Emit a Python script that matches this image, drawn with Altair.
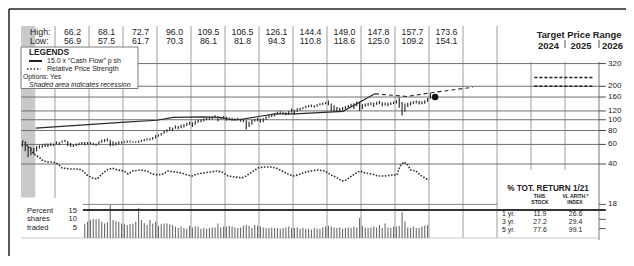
import math
import altair as alt
import pandas as pd

# ---------------- data ----------------
hl_years = list(range(2010, 2022))
hl_high = [66.2, 68.1, 72.7, 96.0, 109.5, 106.5, 126.1, 144.4, 149.0, 147.8, 157.7, 173.6]
hl_low = [56.9, 57.5, 61.7, 70.3, 86.1, 81.8, 94.3, 110.8, 118.6, 125.0, 109.2, 154.1]

# monthly price range, Jan 2009 .. Jan 2021
month_high = [
    63, 62, 58, 57, 56, 58, 59, 60, 61, 61, 62, 61,            # 2009
    64, 63, 65, 66.2, 64, 62, 60, 61, 62, 63, 63, 63,          # 2010
    63, 62, 61, 64, 66, 67, 68.1, 66, 64, 63, 64, 64,          # 2011
    64, 65, 65, 64, 64, 65, 66, 67, 68, 68, 70, 72.7,          # 2012
    74, 76, 80, 82, 86, 85, 89, 88, 90, 91, 94, 96.0,          # 2013
    95, 98, 100, 101, 103, 104, 106, 107, 109.5, 107, 106, 108,  # 2014
    106.5, 105, 104, 103, 104, 102, 101, 99, 96, 100, 102, 104,  # 2015
    102, 103, 107, 110, 112, 114, 118, 119, 118, 117, 120, 126.1,  # 2016
    123, 127, 128, 130, 134, 136, 137, 135, 138, 141, 143, 144.4,  # 2017
    149.0, 140, 135, 130, 128, 130, 133, 136, 139, 141, 146, 145,  # 2018
    138, 140, 142, 144, 143, 145, 147.8, 144, 143, 142, 144, 146,  # 2019
    150, 157.7, 145, 140, 142, 145, 147, 149, 148, 147, 150, 157,  # 2020
    173.6,                                                       # 2021
]
month_low = [
    57, 52, 46, 48, 49, 52, 55, 56, 57, 57, 58, 58,
    60, 59, 62, 63, 58, 57, 56.9, 58, 59, 60, 59, 60,
    60, 59, 58, 60, 62, 63, 64, 57.5, 58, 59, 60, 61,
    61.7, 62, 62.5, 62, 62, 62, 63, 64, 65, 65, 66, 68,
    70.3, 72, 75, 77, 80, 79, 83, 82, 84, 85, 88, 90,
    86.1, 90, 94, 95, 97, 99, 100, 101, 103, 97, 101, 102,
    98, 99, 98, 98, 99, 96, 95, 81.8, 86, 90, 96, 97,
    94.3, 95, 100, 104, 106, 107, 111, 113, 112, 110, 111, 116,
    110.8, 118, 121, 124, 127, 129, 130, 128, 131, 134, 136, 138,
    135, 120, 118.6, 119, 120, 122, 125, 128, 131, 125, 132, 120,
    125.0, 131, 133, 135, 130, 136, 138, 132, 134, 132, 136, 138,
    140, 128, 109.2, 118, 130, 134, 138, 140, 137, 138, 139, 145,
    154.1,
]
price_first_year = 2009

# relative price strength (index)
rps_time = [2009.03, 2009.12, 2009.21, 2009.29, 2009.38, 2009.47, 2009.56, 2009.65, 2009.79, 2009.94,
            2010.09, 2010.21, 2010.44, 2010.68, 2010.79, 2010.94, 2011.09, 2011.24, 2011.38, 2011.53,
            2011.68, 2011.85, 2012.03, 2012.15, 2012.29, 2012.5, 2012.71, 2012.85, 2013.03, 2013.18,
            2013.32, 2013.53, 2013.74, 2013.88, 2014.03, 2014.18, 2014.35, 2014.56, 2014.76, 2014.91,
            2015.09, 2015.29, 2015.5, 2015.62, 2015.79, 2015.97, 2016.12, 2016.32, 2016.5, 2016.68,
            2016.85, 2017.0, 2017.15, 2017.29, 2017.5, 2017.74, 2017.94, 2018.12, 2018.26, 2018.44,
            2018.56, 2018.68, 2018.82, 2018.97, 2019.12, 2019.32, 2019.5, 2019.71, 2019.91, 2020.06,
            2020.15, 2020.26, 2020.35, 2020.47, 2020.62, 2020.74, 2020.88, 2021.0]
rps_value = [1.46, 1.44, 1.34, 1.28, 1.20, 1.16, 1.12, 1.06, 1.04, 1.04,
             1.00, 0.92, 0.90, 0.90, 0.88, 0.78, 0.72, 0.70, 0.80, 0.88,
             0.92, 0.88, 0.86, 0.80, 0.86, 0.88, 0.86, 0.80, 0.78, 0.80,
             0.86, 0.84, 0.82, 0.78, 0.76, 0.80, 0.82, 0.84, 0.86, 0.84,
             0.76, 0.74, 0.72, 0.76, 0.84, 0.92, 0.94, 0.94, 0.92, 0.86,
             0.80, 0.76, 0.78, 0.82, 0.86, 0.88, 0.86, 0.78, 0.74, 0.66,
             0.68, 0.74, 0.80, 0.86, 0.82, 0.80, 0.76, 0.76, 0.78, 0.78,
             0.96, 1.04, 1.00, 0.88, 0.86, 0.78, 0.72, 0.68]

# 15.0 x "Cash Flow" per share
cf_time = [2009.43, 2012.06, 2013.0, 2013.47, 2014.35, 2014.85, 2015.2, 2015.4,
           2016.47, 2017.06, 2018.47, 2019.41]
cf_value = [84, 95, 99, 105, 106, 105, 100, 100, 113, 113, 119, 171]
proj_time = [2019.41, 2020.35, 2021.12, 2022.29]
proj_value = [171, 162, 176, 196]

# percent shares traded, monthly from Nov 2010
vol_first = 2010 + 10 / 12
vol = [7.3, 8.7,
       9.6, 10.2, 10.0, 10.2, 8.7, 7.7, 8.5, 17.7, 9.6, 9.0, 8.7, 7.7,   # 2011
       7.3, 7.0, 7.3, 7.7, 8.7, 16.2, 9.6, 8.0, 7.0, 9.6, 7.7, 8.7,      # 2012
       6.6, 7.3, 7.7, 7.7, 7.3, 7.0, 6.2, 5.3, 6.2, 5.3, 4.9, 6.6,       # 2013
       5.6, 6.2, 6.2, 4.9, 5.3, 4.9, 5.3, 5.6, 5.6, 7.7, 5.6, 6.2,       # 2014
       6.2, 6.6, 6.2, 5.6, 5.3, 5.6, 6.6, 7.0, 6.6, 5.3, 7.0, 6.6,       # 2015
       6.2, 5.6, 5.3, 5.3, 5.6, 5.3, 5.3, 5.0, 5.3, 5.6, 6.2, 5.3,       # 2016
       5.3, 5.6, 4.9, 5.3, 4.9, 5.0, 4.5, 5.3, 4.9, 5.0, 5.6, 6.2,       # 2017
       6.6, 6.2, 5.6, 5.3, 5.6, 5.0, 5.3, 5.6, 5.3, 6.2, 5.6, 10.7,      # 2018
       6.6, 5.6, 5.3, 5.6, 6.2, 5.6, 7.0, 5.3, 7.7, 5.6, 5.3, 6.2,       # 2019
       6.2, 6.6, 13.8, 8.9, 5.6, 5.3, 6.2, 5.3, 5.3, 6.2, 6.6, 7.0]      # 2020

rec_start = [2009.0]
rec_end = [2009.42]

last_time = [2021.18]
last_price = [160]

target_high = 240
target_low = 200
target_from, target_to = 2024.1, 2025.85

price_ticks = [320, 200, 160, 120, 100, 80, 60, 40]
vol_grid = [18, 15]
vol_ticks = [18, 10, 5]

periods = ["1 yr.", "3 yr.", "5 yr."]
this_stock = [11.9, 27.2, 77.6]
vl_index = [26.6, 29.4, 99.1]

# ---------------- layout ----------------
W, H = 618, 248
X0, PPY = 47.0, 34.0                 # plot x of 2010.0, px per year
XDOM = [2010 - X0 / PPY, 2010 + (W - X0) / PPY]
PA, PK = 156.0, 48.3                 # y = PA - PK*ln(p/40)
PDOM = [40 * math.exp((PA - H) / PK), 40 * math.exp(PA / PK)]
VA, VK = 230.0, 1.867                # y = VA - VK*v
VDOM = [(VA - H) / VK, VA / VK]
RA, RK = 206.0, 50.0                 # y = RA - RK*r
RDOM = [(RA - H) / RK, RA / RK]

FONT = "Liberation Sans, Arial, Helvetica, sans-serif"
TXT = "#222222"
VGRID = "#9c9c9c"
HGRID = "#707070"

XS = alt.Scale(domain=XDOM, nice=False, zero=False)


def xe(f):
    return alt.X(f, type="quantitative", scale=XS, axis=None)


def pye(f):
    return alt.Y(f, type="quantitative", scale=alt.Scale(type="log", domain=PDOM, nice=False), axis=None)


def vye(f):
    return alt.Y(f, type="quantitative", scale=alt.Scale(domain=VDOM, nice=False, zero=False), axis=None)


def rye(f):
    return alt.Y(f, type="quantitative", scale=alt.Scale(domain=RDOM, nice=False, zero=False), axis=None)


def label(txt, x, y, size=8.0, weight="normal", style="normal", align="left", color=TXT):
    return alt.Chart(pd.DataFrame({"t": [txt]})).mark_text(
        x=x, y=y, align=align, baseline="alphabetic", fontSize=size, fontWeight=weight,
        fontStyle=style, font=FONT, color=color
    ).encode(text="t:N")


one = pd.DataFrame({"k": [0]})
layers = []

# recession shading
rec = pd.DataFrame({"s": rec_start, "e": rec_end})
layers.append(alt.Chart(rec).mark_rect(color="#c9c9c9").encode(
    x=xe("s"), x2=alt.X2("e"), y=alt.value(18), y2=alt.value(189.5)))


# vertical year lines
def vlines(years, y0, y1, color=VGRID, w=1.0):
    d = pd.DataFrame({"yr": years})
    return alt.Chart(d).mark_rule(color=color, strokeWidth=w).encode(
        x=xe("yr"), y=alt.value(y0), y2=alt.value(y1))


layers.append(vlines([2010], 18, 190))
layers.append(vlines(list(range(2011, 2024)), 18, 230))
layers.append(vlines([2024, 2025], 54, 162))
layers.append(vlines([2026], 54, 232, color="#777777"))
layers.append(vlines([2025, 2026], 32, 40, color="#555555"))

# horizontal price grid
pg = pd.DataFrame({"p": price_ticks, "a": 2009.0, "b": 2026.0})
layers.append(alt.Chart(pg).mark_rule(color=HGRID, strokeWidth=1.0).encode(
    x=xe("a"), x2=alt.X2("b"), y=pye("p")))
pt = pd.DataFrame({"p": price_ticks, "a": 2026.0, "b": 2026.2})
layers.append(alt.Chart(pt).mark_rule(color="#444444", strokeWidth=1.0).encode(
    x=xe("a"), x2=alt.X2("b"), y=pye("p")))
layers.append(alt.Chart(pd.DataFrame({"p": price_ticks})).mark_text(
    align="left", baseline="middle", fontSize=8, font=FONT, color=TXT, dx=1).encode(
    x=alt.value(599), y=pye("p"), text=alt.Text("p:Q", format="d")))

# volume panel grid
vb = pd.DataFrame({"v": [0], "a": 2009.0, "b": 2026.0})
layers.append(alt.Chart(vb).mark_rule(color="#bdbdbd", strokeWidth=0.8).encode(
    x=xe("a"), x2=alt.X2("b"), y=vye("v")))
v18 = pd.DataFrame({"v": [vol_grid[0]], "a": 2010.82, "b": 2023.0})
layers.append(alt.Chart(v18).mark_rule(color="#777777", strokeWidth=0.9).encode(
    x=xe("a"), x2=alt.X2("b"), y=vye("v")))
vt = pd.DataFrame({"v": vol_ticks, "a": 2026.0, "b": 2026.2})
layers.append(alt.Chart(vt).mark_rule(color="#555555", strokeWidth=1.0).encode(
    x=xe("a"), x2=alt.X2("b"), y=vye("v")))
layers.append(alt.Chart(pd.DataFrame({"v": [18]})).mark_text(
    align="left", baseline="middle", fontSize=8, font=FONT, color=TXT, dx=1).encode(
    x=alt.value(599), y=vye("v"), text=alt.Text("v:Q", format="d")))

# volume bars
vd = pd.DataFrame({"t": [vol_first + (i + 0.5) / 12 for i in range(len(vol))], "v": vol, "z": 0})
layers.append(alt.Chart(vd).mark_rule(color="#6a6a6a", strokeWidth=1.1).encode(
    x=xe("t"), y=vye("v"), y2=alt.Y2("z")))

v15 = pd.DataFrame({"v": [vol_grid[1]], "a": 2010.82, "b": 2026.2})
layers.append(alt.Chart(v15).mark_rule(color="#333333", strokeWidth=2.2).encode(
    x=xe("a"), x2=alt.X2("b"), y=vye("v")))

# monthly price bars
pdf = pd.DataFrame({"t": [price_first_year + (i + 0.5) / 12 for i in range(len(month_high))],
                    "hi": month_high, "lo": month_low})
layers.append(alt.Chart(pdf).mark_rule(color="#303030", strokeWidth=1.2).encode(
    x=xe("t"), y=pye("hi"), y2=alt.Y2("lo")))

# relative price strength
rdf = pd.DataFrame({"t": rps_time, "r": rps_value})
layers.append(alt.Chart(rdf).mark_line(color="#2a2a2a", strokeWidth=1.6, strokeDash=[1.5, 1.6]).encode(
    x=xe("t"), y=rye("r")))

# cash flow line and projection
cdf = pd.DataFrame({"t": cf_time, "p": cf_value})
layers.append(alt.Chart(cdf).mark_line(color="#2a2a2a", strokeWidth=1.2).encode(x=xe("t"), y=pye("p")))
jdf = pd.DataFrame({"t": proj_time, "p": proj_value})
layers.append(alt.Chart(jdf).mark_line(color="#2a2a2a", strokeWidth=1.1, strokeDash=[4, 3]).encode(
    x=xe("t"), y=pye("p")))

# target price range
tdf = pd.DataFrame({"p": [target_high, target_low], "a": target_from, "b": target_to})
layers.append(alt.Chart(tdf).mark_rule(color="#1a1a1a", strokeWidth=1.6, strokeDash=[3, 2]).encode(
    x=xe("a"), x2=alt.X2("b"), y=pye("p")))

# latest price dot
ldf = pd.DataFrame({"t": last_time, "p": last_price})
layers.append(alt.Chart(ldf).mark_circle(color="#111111", size=42, opacity=1).encode(x=xe("t"), y=pye("p")))

# high / low rows
HL_FS = 8.8
HIGH_Y, LOW_Y = 26.6, 36.4
hdf = pd.DataFrame({"c": [y + 0.5 for y in hl_years], "h": hl_high, "l": hl_low})
layers.append(alt.Chart(hdf).mark_text(align="center", baseline="alphabetic", fontSize=HL_FS, font=FONT,
                                       color=TXT, dx=0.5).encode(
    x=xe("c"), y=alt.value(HIGH_Y), text=alt.Text("h:Q", format=".1f")))
layers.append(alt.Chart(hdf).mark_text(align="center", baseline="alphabetic", fontSize=HL_FS, font=FONT,
                                       color=TXT, dx=0.5).encode(
    x=xe("c"), y=alt.value(LOW_Y), text=alt.Text("l:Q", format=".1f")))
layers.append(label("High:", 22, HIGH_Y, HL_FS))
layers.append(label("Low:", 22, LOW_Y, HL_FS))

# legend box
layers.append(alt.Chart(one).mark_rect(fill="white", stroke="#7a7a7a", strokeWidth=1).encode(
    x=alt.value(13), x2=alt.value(130), y=alt.value(39), y2=alt.value(80.5)))
layers.append(alt.Chart(one).mark_rule(color="#222222", strokeWidth=2).encode(
    x=alt.value(21), x2=alt.value(34), y=alt.value(53)))
layers.append(alt.Chart(one).mark_rule(color="#222222", strokeWidth=1.4, strokeDash=[1.4, 2]).encode(
    x=alt.value(19), x2=alt.value(33), y=alt.value(61)))
layers.append(label("LEGENDS", 21, 47, 8.3, weight="bold"))
layers.append(label("15.0 x \u201cCash Flow\u201d p sh", 39, 55.4, 7.0))
layers.append(label("Relative Price Strength", 39, 63.3, 7.0))
layers.append(label("Options: Yes", 15, 71.2, 6.8))
layers.append(label("Shaded area indicates recession", 21, 79.0, 7.0, style="italic"))

# target price range header
layers.append(label("Target Price Range", 571, 30, 9.4, weight="bold", align="center"))
layers.append(label("2024", 540.5, 41, 9.4, weight="bold", align="center"))
layers.append(label("2025", 573, 41, 9.4, weight="bold", align="center"))
layers.append(label("2026", 604.5, 41, 9.4, weight="bold", align="center"))

# volume labels
VL_FS = 7.6
layers.append(label("Percent", 19, 204.6, VL_FS))
layers.append(label("shares", 19, 213.2, VL_FS))
layers.append(label("traded", 19, 221.8, VL_FS))
layers.append(label("15", 69, 204.6, VL_FS, align="right"))
layers.append(label("10", 69, 213.2, VL_FS, align="right"))
layers.append(label("5", 69, 221.8, VL_FS, align="right"))

# total return table
layers.append(label("% TOT. RETURN 1/21", 540, 182.8, 8.2, weight="bold", align="center"))
layers.append(label("THIS", 531.5, 189.9, 5.0, weight="bold", align="center"))
layers.append(label("STOCK", 532, 195.7, 5.0, weight="bold", align="center"))
layers.append(label("VL ARITH.*", 567.5, 189.9, 5.0, weight="bold", align="center"))
layers.append(label("INDEX", 567, 195.7, 5.0, weight="bold", align="center"))
for i in range(len(periods)):
    yb = 208 + 7.9 * i
    layers.append(label(periods[i], 494, yb, 6.9))
    layers.append(label(f"{this_stock[i]:.1f}", 532, yb, 6.9, align="center"))
    layers.append(label(f"{vl_index[i]:.1f}", 567.5, yb, 6.9, align="center"))

# outer frame
layers.append(alt.Chart(one).mark_rule(color="#222222", strokeWidth=1.5).encode(
    x=alt.value(1), x2=alt.value(W), y=alt.value(1)))
layers.append(alt.Chart(one).mark_rule(color="#222222", strokeWidth=1.5).encode(
    x=alt.value(1), y=alt.value(1), y2=alt.value(H)))

chart = alt.layer(*layers).resolve_scale(y="independent").properties(
    width=W, height=H, padding=0, autosize=alt.AutoSizeParams(type="none"),
    background="white"
).configure_view(stroke=None)

chart.save("out.html", embed_options={"renderer": "svg", "actions": False})
